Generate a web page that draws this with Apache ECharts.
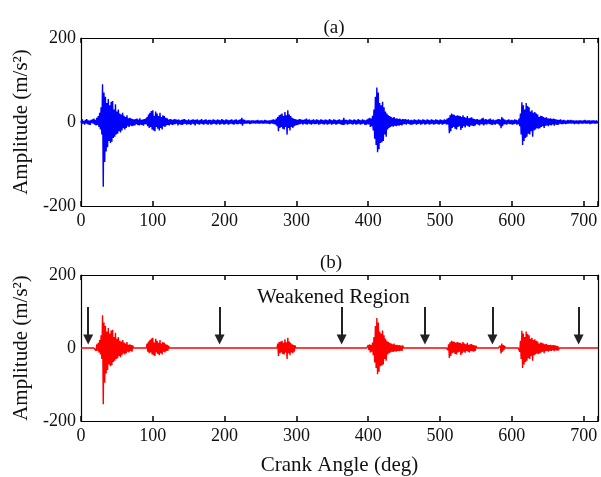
<!DOCTYPE html>
<html><head><meta charset="utf-8">
<script src="https://cdn.jsdelivr.net/npm/echarts@6/dist/echarts.min.js"></script>
<style>html,body{margin:0;padding:0;background:#fff}#c{width:601px;height:477px}</style>
</head><body><div id="c"></div>
<script>
// Crank angle step 1 deg, 0..720
const angleStart = 0, angleStep = 1;
// (a) raw acceleration signal, m/s^2
const signalA = [
3,-5,6,-4,2,-6,5,-3,7,-5, 4,-6,3,-7,5,-2,6,-4,8,-6,
5,-8,10,-7,14,-12,22,-18,35,-30, 90,-154,70,-95,60,-70,45,-60,55,-45,
40,-50,48,-47,50,-38,30,-35,42,-30, 25,-28,30,-22,20,-25,18,-20,22,-15,
15,-18,12,-14,16,-10,9,-12,10,-8, 8,-10,7,-9,6,-8,7,-5,8,-7,
6,-8,9,-6,5,-7,6,-9,7,-5, 8,-6,12,-10,18,-14,22,-12,26,-18,
28,-20,15,-22,25,-12,20,-16,14,-20, 22,-14,12,-18,16,-10,14,-12,10,-8,
9,-7,6,-8,7,-5,6,-7,5,-6, 7,-5,6,-4,5,-8,6,-5,4,-6,
5,-7,6,-5,7,-4,5,-6,4,-5, 6,-5,4,-7,5,-4,6,-5,5,-8,
5,-4,6,-5,4,-6,5,-4,7,-5, 4,-6,5,-4,6,-5,4,-6,5,-4,
5,-6,4,-5,6,-4,5,-5,4,-6, 6,-4,5,-6,4,-5,7,-4,5,-6,
4,-5,6,-4,5,-6,4,-5,5,-4, 6,-5,4,-6,5,-4,6,-5,4,-5,
5,-4,6,-5,10,-9,6,-4,5,-4, 3,-4,4,-3,4,-5,3,-4,4,-3,
4,-3,3,-4,4,-3,5,-4,3,-4, 4,-3,4,-4,3,-4,5,-3,4,-4,
3,-4,4,-5,4,-3,5,-4,6,-5, 5,-6,8,-10,12,-22,16,-14,18,-12,
20,-16,14,-18,24,-12,16,-30,28,-14, 18,-20,14,-12,10,-14,8,-10,7,-8,
6,-7,5,-6,7,-5,6,-4,5,-6, 5,-4,6,-5,8,-6,5,-4,6,-5,
4,-6,5,-4,6,-5,4,-5,6,-4, 5,-6,4,-5,6,-4,5,-5,4,-6,
6,-4,5,-6,4,-5,7,-4,5,-6, 4,-5,6,-4,5,-6,4,-5,5,-4,
6,-5,4,-6,5,-7,10,-6,5,-4, 5,-6,4,-5,6,-4,5,-5,4,-6,
6,-4,5,-6,4,-5,7,-4,5,-6, 4,-5,6,-4,5,-6,4,-7,6,-5,
8,-6,10,-12,8,-10,15,-20,30,-40, 60,-55,82,-72,70,-65,45,-50,40,-48,
48,-45,35,-30,25,-35,20,-18,16,-14, 14,-12,12,-10,10,-11,12,-9,8,-10,
9,-8,7,-9,8,-7,6,-8,7,-5, 6,-5,7,-6,5,-4,6,-5,4,-6,
5,-6,4,-5,6,-4,5,-6,4,-5, 6,-4,5,-6,4,-5,6,-4,5,-6,
4,-5,6,-4,5,-6,4,-5,6,-4, 5,-6,4,-5,6,-4,5,-5,4,-6,
6,-4,5,-6,4,-5,6,-4,5,-6, 8,-6,10,-27,16,-22,20,-14,18,-12,
17,-16,14,-18,16,-12,15,-10,14,-19, 12,-14,16,-10,12,-13,10,-8,14,-10,
9,-12,10,-8,11,-9,8,-10,7,-8, 6,-5,7,-6,5,-8,6,-5,8,-6,
10,-8,6,-5,7,-6,5,-4,6,-5, 8,-6,5,-7,6,-5,4,-6,5,-4,
6,-5,7,-8,6,-15,12,-10,8,-6, 6,-5,4,-6,5,-4,6,-5,4,-5,
5,-6,4,-5,6,-4,5,-6,4,-5, 8,-10,20,-30,47,-55,40,-45,30,-38,
45,-35,38,-28,35,-30,25,-22,28,-35, 22,-20,24,-18,20,-15,18,-16,12,-15,
15,-12,14,-10,12,-14,10,-9,11,-8, 9,-10,8,-7,9,-8,7,-6,8,-9,
7,-6,6,-7,5,-6,5,-4,6,-5, 4,-5,5,-4,4,-5,3,-4,5,-4,
4,-3,5,-4,4,-3,4,-5,3,-4, 4,-4,3,-5,4,-3,4,-4,3,-4,
4,-3,5,-4,3,-4,4,-3,4,-5, 3,-4,4,-3,4,-4,3,-4,4,-3,2
];
// (b) windows (deg) kept from signal (a); outside them the signal is zeroed
const keptWindows = [[20,72],[92,122],[274,298],[400,448],[511,550],[584,590],[611,665]];
// weakened-region arrows (deg) and their vertical span (m/s^2)
const arrowAngles = [10, 193, 363, 479, 573, 693];
const arrowTop = 112, arrowTip = 23;
const xTicks = [0,100,200,300,400,500,600,700];
const yTicks = [-200, 0, 200];

const dataA = signalA.map((v,i)=>[angleStart+i*angleStep, v]);
const dataB = signalA.map((v,i)=>{
  const a = angleStart+i*angleStep;
  const keep = keptWindows.some(w=>a>=w[0]&&a<=w[1]);
  return [a, keep ? v : 0];
});

const FONT = 'Liberation Serif';
const TXT = '#111';
function xAx(gi, showLabel, pos, name){
  return {type:'value', gridIndex:gi, min:0, max:720, interval:100, position:pos,
    axisLine:{show:true, onZero:false, lineStyle:{color:'#000', width:1.2}},
    axisTick:{show:true, inside:true, length:5, lineStyle:{color:'#000', width:1.5}},
    axisLabel:{show:showLabel, fontFamily:FONT, fontSize:18, color:TXT, margin:6,
      formatter:v=> xTicks.indexOf(v)>=0 ? String(v) : ''},
    splitLine:{show:false},
    name: name||'', nameLocation:'middle', nameGap:34,
    nameTextStyle:{fontFamily:FONT, fontSize:21, color:TXT}
  };
}
function yAx(gi, showLabel, pos){
  return {type:'value', gridIndex:gi, min:-200, max:200, interval:200, position:pos,
    axisLine:{show:true, onZero:false, lineStyle:{color:'#000', width:1.2}},
    axisTick:{show:false},
    axisLabel:{show:showLabel, fontFamily:FONT, fontSize:18, color:TXT, margin:5,
      formatter:v=> yTicks.indexOf(v)>=0 ? String(v) : ''},
    splitLine:{show:false},
    name: showLabel ? 'Amplitude (m/s²)' : '', nameLocation:'middle', nameGap:45, nameRotate:90,
    nameTextStyle:{fontFamily:FONT, fontSize:21, color:TXT}
  };
}

const chart = echarts.init(document.getElementById('c'), null, {renderer:'canvas'});
chart.setOption({
  animation:false,
  backgroundColor:'#fff',
  title:[
    {text:'(a)', left:329, top:23, textAlign:'center', textVerticalAlign:'middle',
     textStyle:{fontFamily:FONT, fontSize:19, fontWeight:'normal', color:TXT}},
    {text:'(b)', left:326, top:258, textAlign:'center', textVerticalAlign:'middle',
     textStyle:{fontFamily:FONT, fontSize:19, fontWeight:'normal', color:TXT}},
    {text:'Weakened Region', left:252, top:292, textAlign:'left', textVerticalAlign:'middle',
     textStyle:{fontFamily:FONT, fontSize:21, fontWeight:'normal', color:TXT}}
  ],
  grid:[
    {left:81, top:38, width:517, height:168},
    {left:81, top:275, width:517, height:154}
  ],
  xAxis:[xAx(0,true,'bottom'), xAx(0,false,'top'), xAx(1,true,'bottom','Crank Angle (deg)'), xAx(1,false,'top')],
  yAxis:[yAx(0,true,'left'), yAx(0,false,'right'), yAx(1,true,'left'), yAx(1,false,'right')],
  series:[
    {type:'line', xAxisIndex:0, yAxisIndex:0, data:dataA, showSymbol:false,
     lineStyle:{color:'#0000ff', width:1.4}},
    {type:'line', xAxisIndex:2, yAxisIndex:2, data:dataB, showSymbol:false,
     lineStyle:{color:'#ff0000', width:1.4},
     markLine:{silent:true, symbol:['none','triangle'], symbolSize:[10,10],
       label:{show:false},
       lineStyle:{color:'#222', width:2, type:'solid'},
       data: arrowAngles.map(a=>[{coord:[a,arrowTop]},{coord:[a,arrowTip]}])}
    }
  ]
});
</script></body></html>
